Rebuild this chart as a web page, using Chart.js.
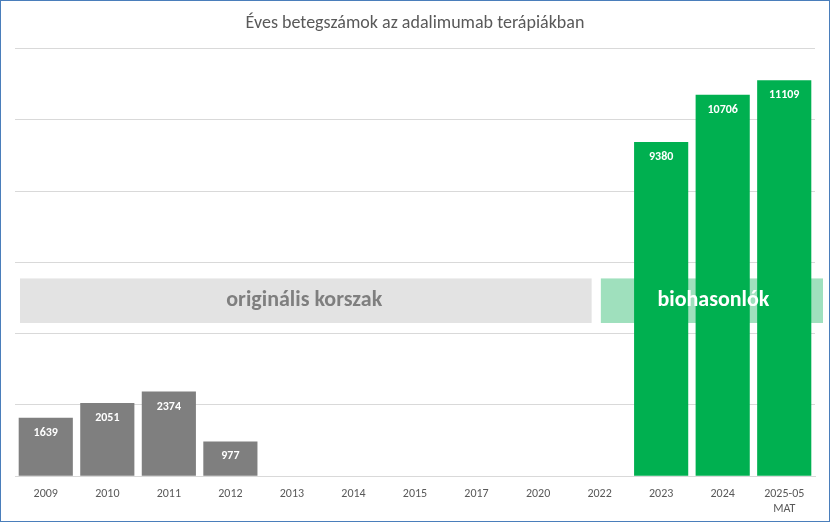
<!DOCTYPE html>
<html><head><meta charset="utf-8">
<script src="https://cdn.jsdelivr.net/npm/chart.js@4"></script>
<style>
html,body{margin:0;padding:0;background:#fff;}
#wrap{position:absolute;left:0;top:0;width:828px;height:520px;border:1px solid #4a7ebb;}
</style></head><body>
<div id="wrap"><canvas id="c" width="828" height="520"></canvas></div>
<script>
var evek = ['2009','2010','2011','2012','2013','2014','2015','2017','2020','2022','2023','2024',['2025-05','MAT']];
var betegek = [1639, 2051, 2374, 977, null, null, null, null, null, null, 9380, 10706, 11109];
var szinek = ['#7f7f7f','#7f7f7f','#7f7f7f','#7f7f7f','#7f7f7f','#7f7f7f','#7f7f7f','#7f7f7f','#7f7f7f','#7f7f7f','#00b050','#00b050','#00b050'];
var savAlso = 4300, savFelso = 5550;

var savok = {
    id: 'savok',
    beforeDatasetsDraw: function (chart) {
        var ctx = chart.ctx, x = chart.scales.x, y = chart.scales.y;
        var top = y.getPixelForValue(savFelso), bot = y.getPixelForValue(savAlso);
        var step = x.getPixelForValue(1) - x.getPixelForValue(0);
        var split1 = x.getPixelForValue(9) - step * 0.13;
        var split2 = x.getPixelForValue(9) + step * 0.02;
        ctx.save();
        ctx.fillStyle = '#e3e3e3';
        ctx.fillRect(chart.chartArea.left + 5, top, split1 - chart.chartArea.left - 5, bot - top);
        ctx.fillStyle = '#9fe0bd';
        ctx.fillRect(split2, top, chart.width - split2 - 6, bot - top);
        ctx.restore();
    },
    afterDatasetsDraw: function (chart) {
        var ctx = chart.ctx, x = chart.scales.x, y = chart.scales.y;
        var mid = (y.getPixelForValue(savFelso) + y.getPixelForValue(savAlso)) / 2;
        ctx.save();
        ctx.font = 'bold 22px Calibri, "Liberation Sans", Arial, sans-serif';
        ctx.textAlign = 'center';
        ctx.textBaseline = 'middle';
        ctx.fillStyle = '#7f7f7f';
        ctx.fillText('originális korszak', (chart.chartArea.left + x.getPixelForValue(8.9)) / 2, mid);
        ctx.fillStyle = '#ffffff';
        ctx.fillText('biohasonlók', x.getPixelForValue(10.85), mid);
        // címkék a oszlopokon
        ctx.font = 'bold 12px Calibri, "Liberation Sans", Arial, sans-serif';
        chart.getDatasetMeta(0).data.forEach(function (bar, i) {
            if (betegek[i] == null) return;
            ctx.fillText(String(betegek[i]), bar.x, bar.y + 15);
        });
        ctx.restore();
    }
};

new Chart(document.getElementById('c'), {
    type: 'bar',
    data: {
        labels: evek,
        datasets: [{
            data: betegek,
            backgroundColor: szinek,
            categoryPercentage: 1,
            barPercentage: 0.88
        }]
    },
    options: {
        responsive: false,
        animation: false,
        layout: { padding: { left: 14, right: 14, top: 0, bottom: 2 } },
        plugins: {
            legend: { display: false },
            tooltip: { enabled: false },
            title: {
                display: true,
                text: 'Éves betegszámok az adalimumab terápiákban',
                color: '#595959',
                font: { size: 18, weight: 'normal', family: 'Calibri, "Open Sans", sans-serif' },
                padding: { top: 12, bottom: 14 }
            }
        },
        scales: {
            x: {
                grid: { display: false },
                border: { color: '#d9d9d9' },
                ticks: { color: '#595959', font: { size: 12, family: 'Calibri, "Open Sans", sans-serif' }, maxRotation: 0, autoSkip: false }
            },
            y: {
                min: 0,
                max: 12000,
                ticks: { stepSize: 2000, display: false },
                border: { display: false },
                grid: { color: '#d9d9d9', drawTicks: false }
            }
        }
    },
    plugins: [savok]
});
</script>
</body></html>
